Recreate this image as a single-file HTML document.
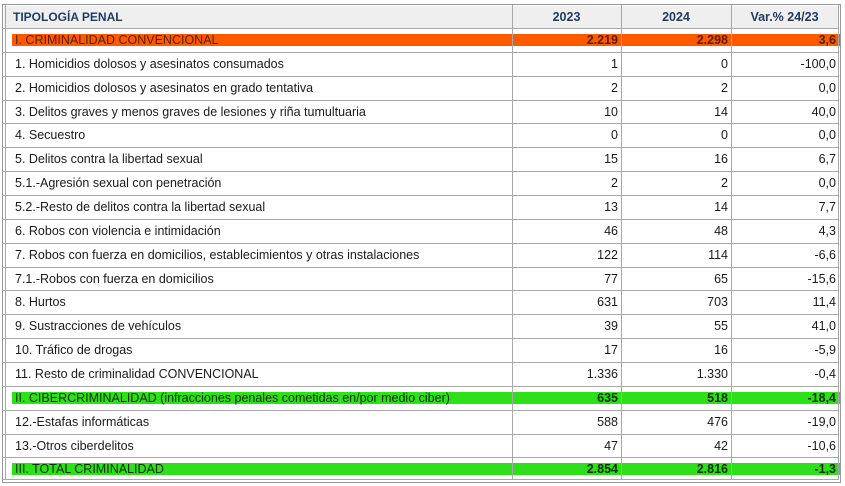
<!DOCTYPE html><html><head><style>
body{margin:0;width:845px;height:486px;background:#fff;font-family:"Liberation Sans",sans-serif;position:relative;overflow:hidden}
.b{position:absolute;}
.t{position:absolute;font-size:12.5px;color:#1a1a1a;white-space:nowrap;line-height:14px}
.r{text-align:right}
.h{font-weight:bold;color:#1f3b5e}
</style></head><body>
<div class="b" style="left:2px;top:4px;width:837px;height:477px;border:1px solid #999"></div>
<div class="b" style="left:4px;top:6px;width:835px;height:22px;background:#efefef"></div>
<div id="g"></div>
<script>
var rows=[
["I. CRIMINALIDAD CONVENCIONAL","2.219","2.298","3,6","#ff5a00"],
["1. Homicidios dolosos y asesinatos consumados","1","0","-100,0"],
["2. Homicidios dolosos y asesinatos en grado tentativa","2","2","0,0"],
["3. Delitos graves y menos graves de lesiones y riña tumultuaria","10","14","40,0"],
["4. Secuestro","0","0","0,0"],
["5. Delitos contra la libertad sexual","15","16","6,7"],
["5.1.-Agresión sexual con penetración","2","2","0,0"],
["5.2.-Resto de delitos contra la libertad sexual","13","14","7,7"],
["6. Robos con violencia e intimidación","46","48","4,3"],
["7. Robos con fuerza en domicilios, establecimientos y otras instalaciones","122","114","-6,6"],
["7.1.-Robos con fuerza en domicilios","77","65","-15,6"],
["8. Hurtos","631","703","11,4"],
["9. Sustracciones de vehículos","39","55","41,0"],
["10. Tráfico de drogas","17","16","-5,9"],
["11. Resto de criminalidad CONVENCIONAL","1.336","1.330","-0,4"],
["II. CIBERCRIMINALIDAD (infracciones penales cometidas en/por medio ciber)","635","518","-18,4","#2ee01a"],
["12.-Estafas informáticas","588","476","-19,0"],
["13.-Otros ciberdelitos","47","42","-10,6"],
["III. TOTAL CRIMINALIDAD","2.854","2.816","-1,3","#2ee01a"]];
var h='';
h+='<div class="t h" style="left:13px;top:10px;font-size:12px">TIPOLOGÍA PENAL</div>';
h+='<div class="t h r" style="left:512px;width:109px;top:10px;text-align:center">2023</div>';
h+='<div class="t h r" style="left:621px;width:110px;top:10px;text-align:center">2024</div>';
h+='<div class="t h r" style="left:731px;width:107px;top:10px;text-align:center">Var.% 24/23</div>';
var H=23.85;
for(var i=0;i<rows.length;i++){var y=28+i*H,r=rows[i];
h+='<div class="b" style="left:3px;top:'+y.toFixed(1)+'px;width:836px;height:1px;background:#a8a8a8"></div>';
var c=r[4]?'color:#202020;font-weight:bold;':'';
if(r[4]){h+='<div class="b" style="left:12px;top:'+(y+6).toFixed(1)+'px;width:828px;height:12px;background:'+r[4]+'"></div>';c+=i==0?'color:#5a2000;':'color:#0a3000;';}
var fw=r[4]?'font-weight:normal;':'';
h+='<div class="t" style="left:15px;top:'+(y+5).toFixed(1)+'px;'+c+fw+'">'+r[0]+'</div>';
h+='<div class="t r" style="left:512px;width:106px;top:'+(y+5).toFixed(1)+'px;'+c+'">'+r[1]+'</div>';
h+='<div class="t r" style="left:621px;width:107px;top:'+(y+5).toFixed(1)+'px;'+c+'">'+r[2]+'</div>';
h+='<div class="t r" style="left:731px;width:105px;top:'+(y+5).toFixed(1)+'px;'+c+'">'+r[3]+'</div>';}
h+='<div class="b" style="left:3px;top:479px;width:836px;height:1px;background:#a8a8a8"></div>';
[512,621,731].forEach(function(x){h+='<div class="b" style="left:'+x+'px;top:5px;width:1px;height:475px;background:#a8a8a8"></div>'});
h+='<div class="b" style="left:5px;top:5px;width:1px;height:475px;background:#a8a8a8"></div>';
h+='<div class="b" style="left:838px;top:5px;width:1px;height:475px;background:#a8a8a8"></div>';
document.getElementById('g').innerHTML=h;
</script>
</body></html>
